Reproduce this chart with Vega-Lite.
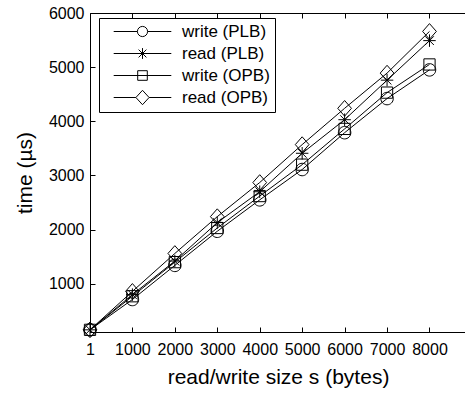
{
  "$schema": "https://vega.github.io/schema/vega-lite/v6.json",
  "width": 376,
  "height": 319,
  "autosize": "none",
  "padding": {"left": 90, "top": 13, "right": 0, "bottom": 61},
  "background": "white",
  "config": {
    "font": "Liberation Sans",
    "view": {"stroke": "black", "strokeWidth": 1},
    "axis": {
      "domainColor": "black", "tickColor": "black", "labelColor": "black", "titleColor": "black",
      "grid": false, "tickSize": 5, "labelFont": "Liberation Sans", "labelFontSize": 16,
      "titleFont": "Liberation Sans", "titleFontSize": 21, "titleFontWeight": "normal",
      "labelFlush": false, "labelOverlap": false, "format": "d"
    }
  },
  "data": {"values": [
    {"s": 1, "t": 150, "series": "write (PLB)"},
    {"s": 1000, "t": 710, "series": "write (PLB)"},
    {"s": 2000, "t": 1340, "series": "write (PLB)"},
    {"s": 3000, "t": 1970, "series": "write (PLB)"},
    {"s": 4000, "t": 2550, "series": "write (PLB)"},
    {"s": 5000, "t": 3110, "series": "write (PLB)"},
    {"s": 6000, "t": 3790, "series": "write (PLB)"},
    {"s": 7000, "t": 4420, "series": "write (PLB)"},
    {"s": 8000, "t": 4950, "series": "write (PLB)"},
    {"s": 1, "t": 150, "series": "read (PLB)"},
    {"s": 1000, "t": 800, "series": "read (PLB)"},
    {"s": 2000, "t": 1420, "series": "read (PLB)"},
    {"s": 3000, "t": 2130, "series": "read (PLB)"},
    {"s": 4000, "t": 2700, "series": "read (PLB)"},
    {"s": 5000, "t": 3410, "series": "read (PLB)"},
    {"s": 6000, "t": 4030, "series": "read (PLB)"},
    {"s": 7000, "t": 4760, "series": "read (PLB)"},
    {"s": 8000, "t": 5490, "series": "read (PLB)"},
    {"s": 1, "t": 150, "series": "write (OPB)"},
    {"s": 1000, "t": 770, "series": "write (OPB)"},
    {"s": 2000, "t": 1400, "series": "write (OPB)"},
    {"s": 3000, "t": 2030, "series": "write (OPB)"},
    {"s": 4000, "t": 2620, "series": "write (OPB)"},
    {"s": 5000, "t": 3200, "series": "write (OPB)"},
    {"s": 6000, "t": 3860, "series": "write (OPB)"},
    {"s": 7000, "t": 4530, "series": "write (OPB)"},
    {"s": 8000, "t": 5050, "series": "write (OPB)"},
    {"s": 1, "t": 150, "series": "read (OPB)"},
    {"s": 1000, "t": 860, "series": "read (OPB)"},
    {"s": 2000, "t": 1560, "series": "read (OPB)"},
    {"s": 3000, "t": 2240, "series": "read (OPB)"},
    {"s": 4000, "t": 2870, "series": "read (OPB)"},
    {"s": 5000, "t": 3570, "series": "read (OPB)"},
    {"s": 6000, "t": 4240, "series": "read (OPB)"},
    {"s": 7000, "t": 4890, "series": "read (OPB)"},
    {"s": 8000, "t": 5660, "series": "read (OPB)"}
  ]},
  "layer": [
    {
      "mark": {"type": "line", "color": "black", "strokeWidth": 1},
      "encoding": {
        "x": {"field": "s", "type": "quantitative", "scale": {"domain": [1, 8860], "nice": false, "zero": false},
              "axis": {"orient": "top", "offset": -319, "values": [1000, 2000, 3000, 4000, 5000, 6000, 7000, 8000], "labels": false, "title": null, "domain": false}},
        "y": {"field": "t", "type": "quantitative", "scale": {"domain": [110, 6000], "nice": false, "zero": false},
              "axis": {"orient": "left", "values": [1000, 2000, 3000, 4000, 5000, 6000], "ticks": false, "title": "time (µs)", "labelPadding": 6, "titlePadding": 13}},
        "detail": {"field": "series"}
      }
    },
    {
      "mark": {"type": "point", "filled": false, "color": "black", "size": 156, "strokeWidth": 1, "opacity": 1},
      "encoding": {
        "x": {"field": "s", "type": "quantitative",
              "axis": {"orient": "bottom", "values": [1, 1000, 2000, 3000, 4000, 5000, 6000, 7000, 8000], "ticks": false, "title": "read/write size s (bytes)", "labelPadding": 9, "titlePadding": 9}},
        "y": {"field": "t", "type": "quantitative",
              "axis": {"orient": "right", "offset": -376, "values": [1000, 2000, 3000, 4000, 5000, 6000], "labels": false, "title": null, "domain": false}},
        "shape": {
          "field": "series", "type": "nominal",
          "scale": {
            "domain": ["write (PLB)", "read (PLB)", "write (OPB)", "read (OPB)"],
            "range": [
              "M1,0A1,1 0 1,1 -1,0A1,1 0 1,1 1,0Z",
              "M0,-1V1M-1,0H1M-0.7,-0.7L0.7,0.7M-0.7,0.7L0.7,-0.7",
              "M-0.9,-0.9H0.9V0.9H-0.9Z",
              "M0,-1.25L1.1,0L0,1.25L-1.1,0Z"
            ]
          },
          "legend": null
        }
      }
    },
    {
      "mark": {"type": "point", "filled": false, "color": "black", "size": 144, "strokeWidth": 1, "opacity": 0},
      "encoding": {
        "x": {"field": "s", "type": "quantitative",
              "axis": {"orient": "bottom", "offset": -319, "values": [1000, 2000, 3000, 4000, 5000, 6000, 7000, 8000], "labels": false, "title": null, "domain": false}},
        "y": {"field": "t", "type": "quantitative", "axis": null},
        "shape": {
          "field": "series", "type": "nominal",
          "scale": {
            "domain": ["write (PLB)", "read (PLB)", "write (OPB)", "read (OPB)"],
            "range": [
              "M-4.8,0H-0.85M0.85,0H4.8M0.85,0A0.85,0.85 0 1,1 -0.85,0A0.85,0.85 0 1,1 0.85,0",
              "M-4.8,0H4.8M0,-0.9V0.9M-0.65,-0.65L0.65,0.65M-0.65,0.65L0.65,-0.65",
              "M-4.8,0H4.8M-0.8,-0.8H0.8V0.8H-0.8Z",
              "M-4.8,0H-1.1M1.1,0H4.8M0,-1.2L1.1,0L0,1.2L-1.1,0Z"
            ]
          },
          "legend": {
            "title": null, "orient": "none", "legendX": 9, "legendY": 5,
            "strokeColor": "black", "fillColor": "white", "padding": 5,
            "symbolSize": 144, "symbolOpacity": 1, "symbolStrokeColor": "black", "symbolFillColor": "transparent",
            "symbolStrokeWidth": 1, "symbolOffset": 30, "labelOffset": 31, "labelAlign": "left",
            "labelFont": "Liberation Sans", "labelFontSize": 17, "labelColor": "black", "rowPadding": 4
          }
        }
      }
    }
  ],
  "resolve": {"scale": {"shape": "independent"}, "axis": {"x": "independent", "y": "independent"}}
}
